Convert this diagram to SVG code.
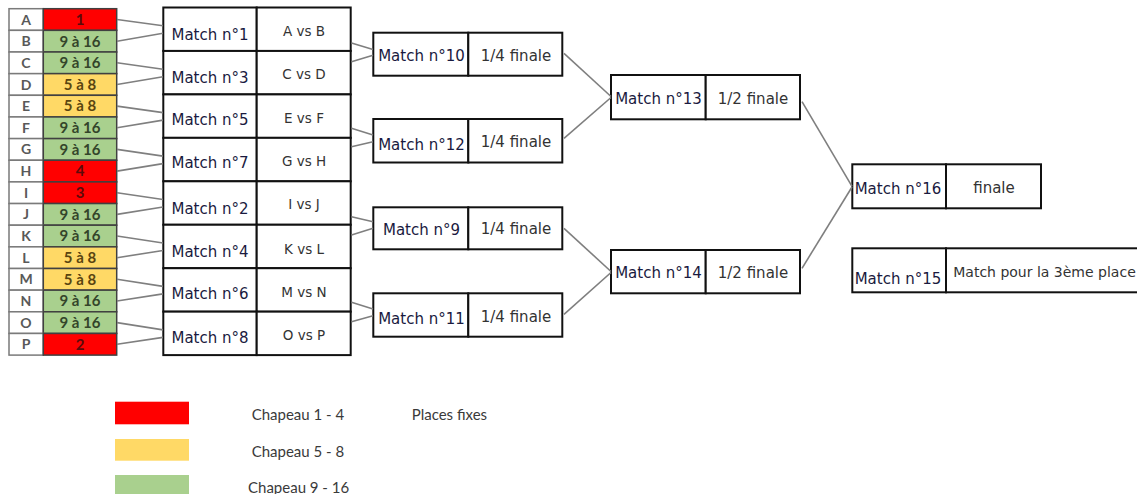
<svg xmlns="http://www.w3.org/2000/svg" width="1137" height="494" viewBox="0 0 1137 494">
<style>
.bg{fill:#ffffff}
.lc{fill:#ffffff;stroke:#7a7a7a;stroke-width:1.5}
.red{fill:#ff0000;stroke:#404040;stroke-width:1.5}
.grn{fill:#a9d08e;stroke:#404040;stroke-width:1.5}
.yel{fill:#ffd966;stroke:#404040;stroke-width:1.5}
.lt{font-family:Lato,"Open Sans",sans-serif;font-weight:bold;font-size:14px;fill:#595959;text-anchor:middle}
.nt{font-family:Lato,"Open Sans",sans-serif;font-weight:bold;font-size:15px;text-anchor:middle}
.nr{fill:#5c0a0a}.ng{fill:#34452a}.ny{fill:#5a4510}
.box{fill:#ffffff;stroke:#111111;stroke-width:2}
.mt{font-family:"DejaVu Sans",Verdana,sans-serif;font-size:15px;fill:#1a1a40;text-anchor:middle}
.vt{font-family:"DejaVu Sans",Verdana,sans-serif;font-size:13.5px;fill:#333333;text-anchor:middle}
.ft{font-family:"DejaVu Sans",Verdana,sans-serif;font-size:15px;fill:#333333;text-anchor:middle}
.con line{stroke:#7f7f7f;stroke-width:1.6}
.lg{font-family:Lato,"Open Sans",sans-serif;font-size:15px;fill:#3a3a3a}
</style>
<rect class="bg" x="0" y="0" width="1137" height="494"/>

<g id="teams">
<g id="team-A"><rect class="lc" x="9" y="8.7" width="34.3" height="21.65"/><rect class="red" x="43.3" y="8.7" width="73.4" height="21.65"/><text class="lt" x="26" y="24.5">A</text><text class="nt nr" x="80" y="24.8">1</text></g>
<g id="team-B"><rect class="lc" x="9" y="30.35" width="34.3" height="21.65"/><rect class="grn" x="43.3" y="30.35" width="73.4" height="21.65"/><text class="lt" x="26" y="46.2">B</text><text class="nt ng" x="80" y="46.5">9 à 16</text></g>
<g id="team-C"><rect class="lc" x="9" y="52" width="34.3" height="21.65"/><rect class="grn" x="43.3" y="52" width="73.4" height="21.65"/><text class="lt" x="26" y="67.8">C</text><text class="nt ng" x="80" y="68.1">9 à 16</text></g>
<g id="team-D"><rect class="lc" x="9" y="73.65" width="34.3" height="21.65"/><rect class="yel" x="43.3" y="73.65" width="73.4" height="21.65"/><text class="lt" x="26" y="89.5">D</text><text class="nt ny" x="80" y="89.8">5 à 8</text></g>
<g id="team-E"><rect class="lc" x="9" y="95.3" width="34.3" height="21.65"/><rect class="yel" x="43.3" y="95.3" width="73.4" height="21.65"/><text class="lt" x="26" y="111.1">E</text><text class="nt ny" x="80" y="111.4">5 à 8</text></g>
<g id="team-F"><rect class="lc" x="9" y="116.95" width="34.3" height="21.65"/><rect class="grn" x="43.3" y="116.95" width="73.4" height="21.65"/><text class="lt" x="26" y="132.8">F</text><text class="nt ng" x="80" y="133.1">9 à 16</text></g>
<g id="team-G"><rect class="lc" x="9" y="138.6" width="34.3" height="21.65"/><rect class="grn" x="43.3" y="138.6" width="73.4" height="21.65"/><text class="lt" x="26" y="154.4">G</text><text class="nt ng" x="80" y="154.7">9 à 16</text></g>
<g id="team-H"><rect class="lc" x="9" y="160.25" width="34.3" height="21.65"/><rect class="red" x="43.3" y="160.25" width="73.4" height="21.65"/><text class="lt" x="26" y="176.1">H</text><text class="nt nr" x="80" y="176.4">4</text></g>
<g id="team-I"><rect class="lc" x="9" y="181.9" width="34.3" height="21.65"/><rect class="red" x="43.3" y="181.9" width="73.4" height="21.65"/><text class="lt" x="26" y="197.7">I</text><text class="nt nr" x="80" y="198">3</text></g>
<g id="team-J"><rect class="lc" x="9" y="203.55" width="34.3" height="21.65"/><rect class="grn" x="43.3" y="203.55" width="73.4" height="21.65"/><text class="lt" x="26" y="219.4">J</text><text class="nt ng" x="80" y="219.7">9 à 16</text></g>
<g id="team-K"><rect class="lc" x="9" y="225.2" width="34.3" height="21.65"/><rect class="grn" x="43.3" y="225.2" width="73.4" height="21.65"/><text class="lt" x="26" y="241">K</text><text class="nt ng" x="80" y="241.3">9 à 16</text></g>
<g id="team-L"><rect class="lc" x="9" y="246.85" width="34.3" height="21.65"/><rect class="yel" x="43.3" y="246.85" width="73.4" height="21.65"/><text class="lt" x="26" y="262.7">L</text><text class="nt ny" x="80" y="263">5 à 8</text></g>
<g id="team-M"><rect class="lc" x="9" y="268.5" width="34.3" height="21.65"/><rect class="yel" x="43.3" y="268.5" width="73.4" height="21.65"/><text class="lt" x="26" y="284.3">M</text><text class="nt ny" x="80" y="284.6">5 à 8</text></g>
<g id="team-N"><rect class="lc" x="9" y="290.15" width="34.3" height="21.65"/><rect class="grn" x="43.3" y="290.15" width="73.4" height="21.65"/><text class="lt" x="26" y="306">N</text><text class="nt ng" x="80" y="306.3">9 à 16</text></g>
<g id="team-O"><rect class="lc" x="9" y="311.8" width="34.3" height="21.65"/><rect class="grn" x="43.3" y="311.8" width="73.4" height="21.65"/><text class="lt" x="26" y="327.6">O</text><text class="nt ng" x="80" y="327.9">9 à 16</text></g>
<g id="team-P"><rect class="lc" x="9" y="333.45" width="34.3" height="21.65"/><rect class="red" x="43.3" y="333.45" width="73.4" height="21.65"/><text class="lt" x="26" y="349.3">P</text><text class="nt nr" x="80" y="349.6">2</text></g>
</g>

<g id="round1">
<g id="match-1"><rect class="box" x="163.3" y="7.5" width="93.4" height="43.45"/><rect class="box" x="256.7" y="7.5" width="94" height="43.45"/><text class="mt" x="210" y="39.5">Match n°1</text><text class="vt" x="304" y="35.8">A vs B</text></g>
<g id="match-3"><rect class="box" x="163.3" y="50.95" width="93.4" height="43.45"/><rect class="box" x="256.7" y="50.95" width="94" height="43.45"/><text class="mt" x="210" y="82.7">Match n°3</text><text class="vt" x="304" y="79.2">C vs D</text></g>
<g id="match-5"><rect class="box" x="163.3" y="94.4" width="93.4" height="43.45"/><rect class="box" x="256.7" y="94.4" width="94" height="43.45"/><text class="mt" x="210" y="124.5">Match n°5</text><text class="vt" x="304" y="122.6">E vs F</text></g>
<g id="match-7"><rect class="box" x="163.3" y="137.85" width="93.4" height="43.45"/><rect class="box" x="256.7" y="137.85" width="94" height="43.45"/><text class="mt" x="210" y="167.7">Match n°7</text><text class="vt" x="304" y="166.4">G vs H</text></g>
<g id="match-2"><rect class="box" x="163.3" y="181.3" width="93.4" height="43.45"/><rect class="box" x="256.7" y="181.3" width="94" height="43.45"/><text class="mt" x="210" y="213.7">Match n°2</text><text class="vt" x="304" y="209.2">I vs J</text></g>
<g id="match-4"><rect class="box" x="163.3" y="224.75" width="93.4" height="43.45"/><rect class="box" x="256.7" y="224.75" width="94" height="43.45"/><text class="mt" x="210" y="257.1">Match n°4</text><text class="vt" x="304" y="253.9">K vs L</text></g>
<g id="match-6"><rect class="box" x="163.3" y="268.2" width="93.4" height="43.45"/><rect class="box" x="256.7" y="268.2" width="94" height="43.45"/><text class="mt" x="210" y="299.4">Match n°6</text><text class="vt" x="304" y="296.6">M vs N</text></g>
<g id="match-8"><rect class="box" x="163.3" y="311.65" width="93.4" height="43.45"/><rect class="box" x="256.7" y="311.65" width="94" height="43.45"/><text class="mt" x="210" y="342.7">Match n°8</text><text class="vt" x="304" y="339.9">O vs P</text></g>
</g>

<g id="quarters">
<g id="match-10"><rect class="box" x="373.3" y="32.7" width="95" height="43"/><rect class="box" x="468.3" y="32.7" width="94" height="43"/><text class="mt" x="421.5" y="61.2">Match n°10</text><text class="ft" x="516" y="60.5">1/4 finale</text></g>
<g id="match-12"><rect class="box" x="373.3" y="119" width="95" height="43.5"/><rect class="box" x="468.3" y="119" width="94" height="43.5"/><text class="mt" x="421.5" y="149.5">Match n°12</text><text class="ft" x="516" y="147.2">1/4 finale</text></g>
<g id="match-9"><rect class="box" x="373.3" y="207.3" width="95" height="42"/><rect class="box" x="468.3" y="207.3" width="94" height="42"/><text class="mt" x="421.5" y="234.8">Match n°9</text><text class="ft" x="516" y="233.8">1/4 finale</text></g>
<g id="match-11"><rect class="box" x="373.3" y="293.3" width="95" height="43.4"/><rect class="box" x="468.3" y="293.3" width="94" height="43.4"/><text class="mt" x="421.5" y="323.8">Match n°11</text><text class="ft" x="516" y="322.2">1/4 finale</text></g>
</g>

<g id="semis">
<g id="match-13"><rect class="box" x="611" y="75" width="94.7" height="44.3"/><rect class="box" x="705.7" y="75" width="94.3" height="44.3"/><text class="mt" x="658.5" y="103.8">Match n°13</text><text class="ft" x="753" y="103.8">1/2 finale</text></g>
<g id="match-14"><rect class="box" x="611" y="250" width="94.7" height="43.3"/><rect class="box" x="705.7" y="250" width="94.3" height="43.3"/><text class="mt" x="658.5" y="277.8">Match n°14</text><text class="ft" x="753" y="277.8">1/2 finale</text></g>
</g>

<g id="finals">
<g id="match-16"><rect class="box" x="852.3" y="164.3" width="93.7" height="44"/><rect class="box" x="946" y="164.3" width="95" height="44"/><text class="mt" x="898" y="193.8">Match n°16</text><text class="ft" x="994" y="192.5">finale</text></g>
<g id="match-15"><rect class="box" x="852.3" y="248.3" width="93.7" height="44"/><rect class="box" x="946" y="248.3" width="200" height="44"/><text class="mt" x="898" y="283.8">Match n°15</text><text class="ft" x="1044.5" y="277" style="font-size:14px">Match pour la 3ème place</text></g>
</g>

<g id="connectors" class="con">
<line x1="117" y1="19.5" x2="163" y2="25.8"/>
<line x1="117" y1="41.2" x2="163" y2="33.3"/>
<line x1="117" y1="62.8" x2="163" y2="69.2"/>
<line x1="117" y1="84.5" x2="163" y2="76.7"/>
<line x1="117" y1="106.1" x2="163" y2="112.6"/>
<line x1="117" y1="127.8" x2="163" y2="120.1"/>
<line x1="117" y1="149.4" x2="163" y2="156.1"/>
<line x1="117" y1="171.1" x2="163" y2="163.6"/>
<line x1="117" y1="192.7" x2="163" y2="199.5"/>
<line x1="117" y1="214.4" x2="163" y2="207"/>
<line x1="117" y1="236" x2="163" y2="243"/>
<line x1="117" y1="257.7" x2="163" y2="250.5"/>
<line x1="117" y1="279.3" x2="163" y2="286.4"/>
<line x1="117" y1="301" x2="163" y2="293.9"/>
<line x1="117" y1="322.6" x2="163" y2="329.9"/>
<line x1="117" y1="344.3" x2="163" y2="337.4"/>

<line x1="351.5" y1="43" x2="373" y2="49.5"/>
<line x1="351.5" y1="61.7" x2="373" y2="55.3"/>
<line x1="351.5" y1="128.3" x2="373" y2="135"/>
<line x1="351.5" y1="146.7" x2="373" y2="141.7"/>
<line x1="351.5" y1="216.7" x2="373" y2="221.7"/>
<line x1="351.5" y1="235" x2="373" y2="228.3"/>
<line x1="351.5" y1="302.3" x2="373" y2="309"/>
<line x1="351.5" y1="321.7" x2="373" y2="315.7"/>

<line x1="564" y1="53.3" x2="611" y2="96.5"/>
<line x1="564" y1="138.3" x2="611" y2="97.5"/>
<line x1="564" y1="228.3" x2="611" y2="271.5"/>
<line x1="564" y1="314.3" x2="611" y2="272.5"/>

<line x1="802" y1="101.7" x2="852" y2="186.3"/>
<line x1="802" y1="268.3" x2="852" y2="187"/>
</g>

<g id="legend">
<rect x="115" y="401.7" width="74" height="22.6" fill="#ff0000"/>
<rect x="115" y="439" width="74" height="21.7" fill="#ffd966"/>
<rect x="115" y="475" width="74" height="24" fill="#a9d08e"/>
<text class="lg" x="251.7" y="419.5">Chapeau 1 - 4</text>
<text class="lg" x="411.7" y="419.5">Places fixes</text>
<text class="lg" x="251.7" y="456.5">Chapeau 5 - 8</text>
<text class="lg" x="248" y="493">Chapeau 9 - 16</text>
</g>
</svg>
